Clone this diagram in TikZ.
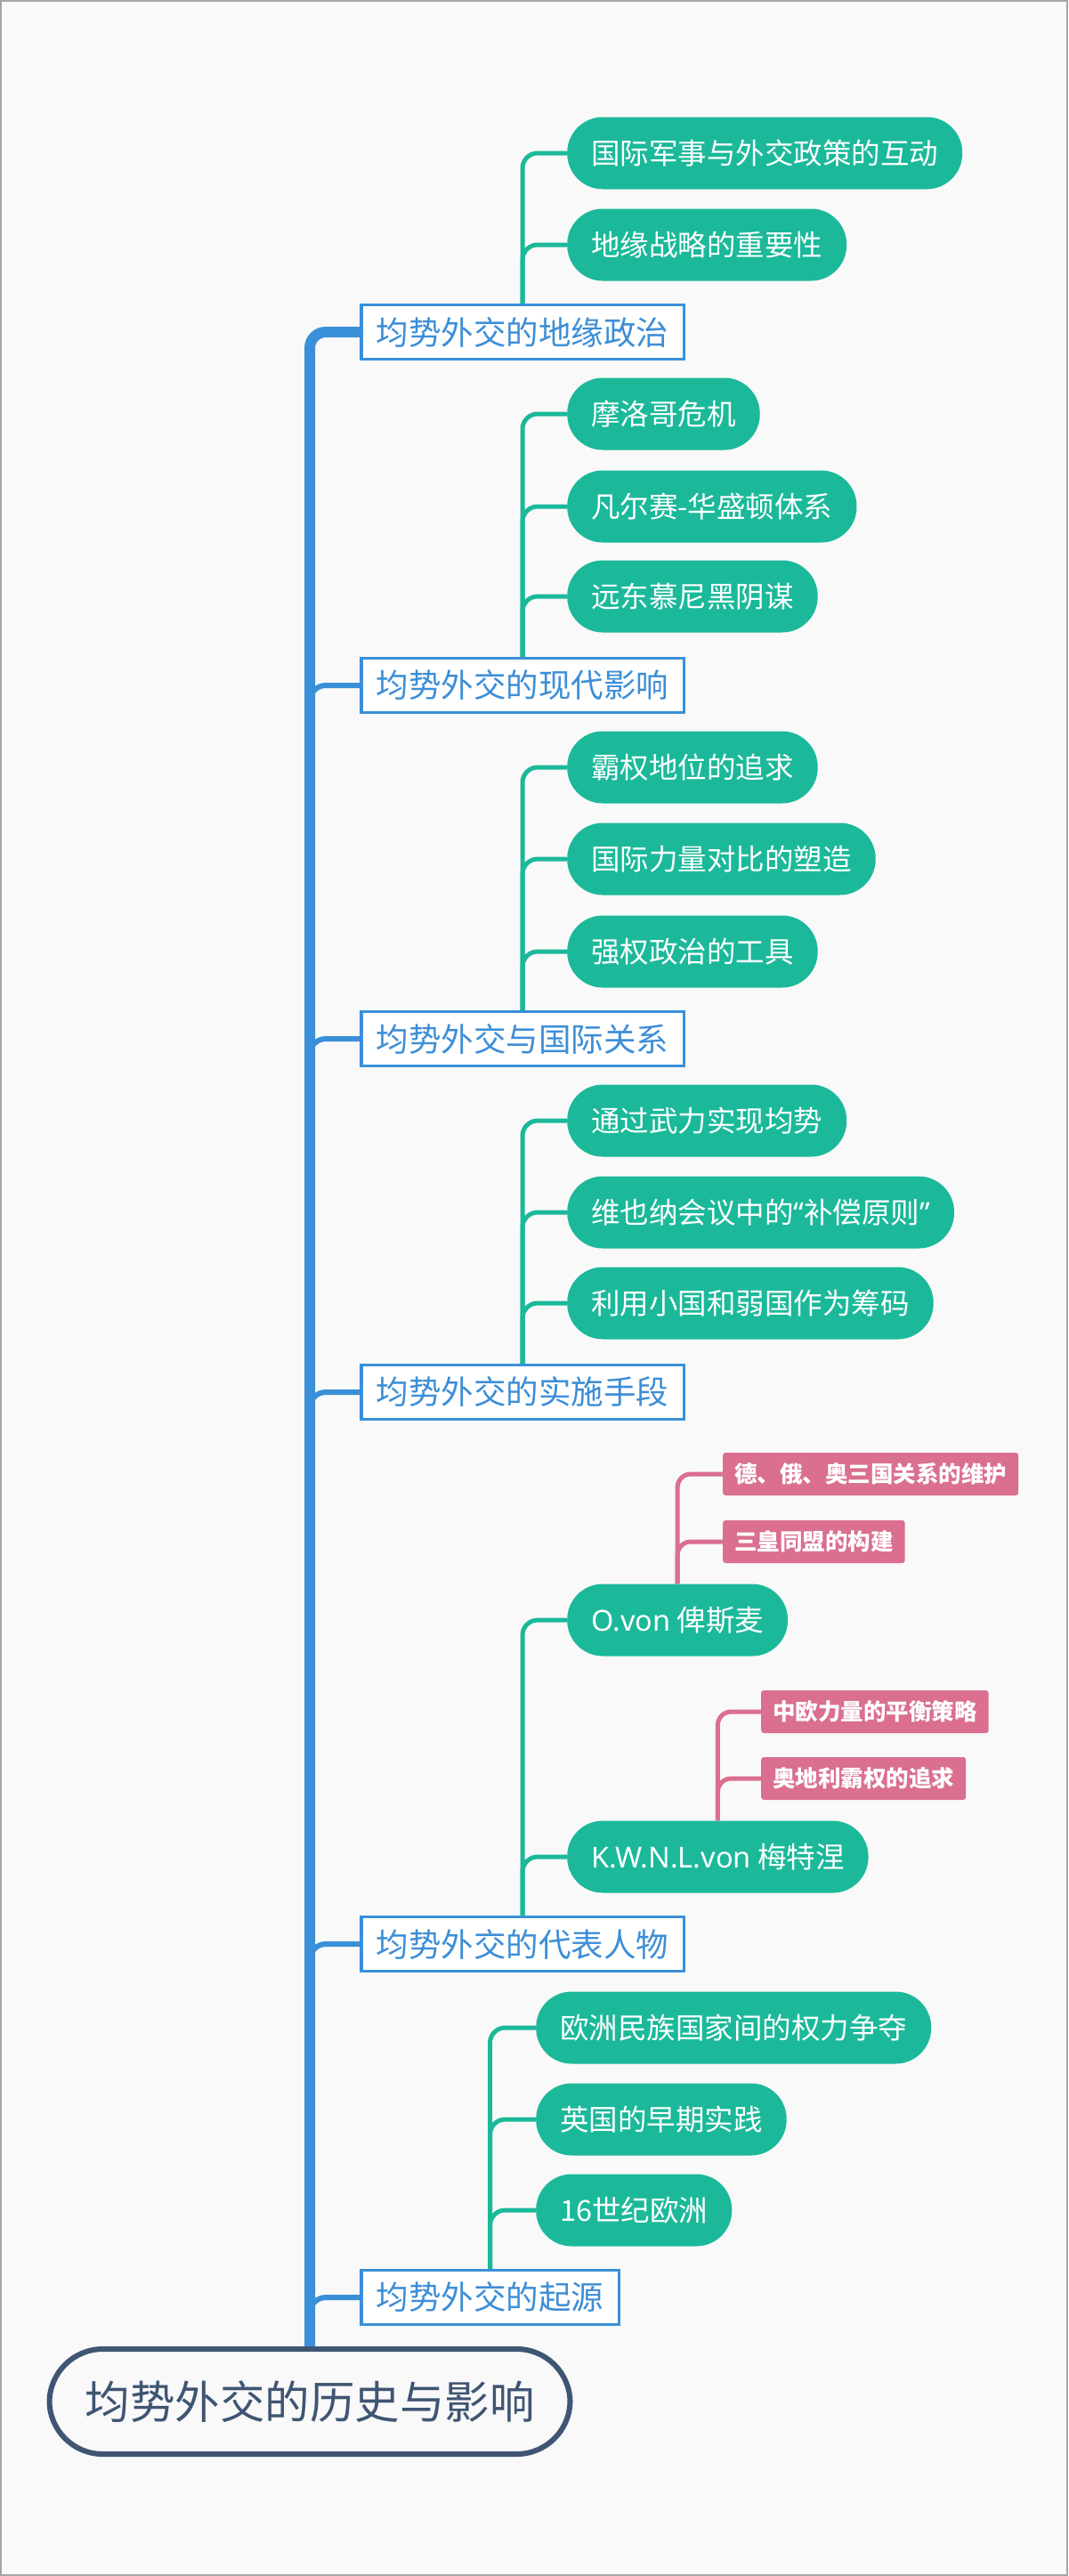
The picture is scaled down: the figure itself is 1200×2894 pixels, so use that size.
\documentclass[tikz,border=0pt]{standalone}
\usepackage{fontspec}
\newfontfamily\cjk{Noto Sans CJK SC}
\newfontfamily\lat{Noto Sans}
\usetikzlibrary{positioning}

\definecolor{bgcol}{RGB}{249,249,249}
\definecolor{trunkblue}{RGB}{58,144,216}
\definecolor{boxtext}{RGB}{61,142,214}
\definecolor{teal}{RGB}{27,185,154}
\definecolor{rose}{RGB}{218,111,143}
\definecolor{slate}{RGB}{63,85,115}

\pgfdeclarelayer{paper}
\pgfdeclarelayer{lines}
\pgfsetlayers{paper,lines,main}

\begin{document}
\begin{tikzpicture}[
  x=1pt, y=-1pt,
  rootnode/.style={draw=slate, line width=6pt, rounded corners=60pt, minimum height=118pt,
              inner xsep=40pt, text=slate, font=\cjk\fontsize{50.5}{56}\selectfont},
  topic/.style={draw=trunkblue, fill=white, line width=3.5pt, minimum height=61pt,
              inner xsep=17pt, anchor=west, text=boxtext, font=\cjk\fontsize{36.5}{42}\selectfont},
  pill/.style={fill=teal, rounded corners=40pt, minimum height=81pt, inner xsep=27pt,
              anchor=west, text=white, font=\cjk\fontsize{32.5}{38}\selectfont},
  tag/.style={fill=rose, rounded corners=3pt, minimum height=48pt, inner xsep=13pt,
              anchor=west, text=white, font=\cjk\bfseries\fontsize{25.5}{30}\selectfont},
  trunk/.style={draw=trunkblue, line width=12pt, rounded corners=18pt},
  twig/.style={draw=trunkblue, line width=6pt, rounded corners=18pt},
  gline/.style={draw=teal, line width=5pt, rounded corners=17pt},
  pline/.style={draw=rose, line width=5pt, rounded corners=15pt}
]
  \useasboundingbox (0,0) rectangle (1200,2894);
  \begin{pgfonlayer}{paper}
    \fill[bgcol] (0,0) rectangle (1200,2894);
    \draw[gray!70, line width=2pt] (1,1) rectangle (1199,2893);
  \end{pgfonlayer}

  % root and main topics
  \node[rootnode] (root) at (348,2698) {均势外交的历史与影响};
  \node[topic] (geo)  at (404,373)  {均势外交的地缘政治};
  \node[topic] (mod)  at (404,770)  {均势外交的现代影响};
  \node[topic] (rel)  at (404,1167) {均势外交与国际关系};
  \node[topic] (mean) at (404,1564) {均势外交的实施手段};
  \node[topic] (ppl)  at (404,2184) {均势外交的代表人物};
  \node[topic] (orig) at (404,2581) {均势外交的起源};

  % subtopics
  \node[pill] (geoa) at (637,172) {国际军事与外交政策的互动};
  \node[pill] (geob) at (637,275) {地缘战略的重要性};
  \node[pill] (moda) at (637,465) {摩洛哥危机};
  \node[pill] (modb) at (637,569) {凡尔赛-华盛顿体系};
  \node[pill] (modc) at (637,670) {远东慕尼黑阴谋};
  \node[pill] (rela) at (637,862) {霸权地位的追求};
  \node[pill] (relb) at (637,965) {国际力量对比的塑造};
  \node[pill] (relc) at (637,1069) {强权政治的工具};
  \node[pill] (meana) at (637,1259) {通过武力实现均势};
  \node[pill] (meanb) at (637,1362) {维也纳会议中的{\lat “}补偿原则{\lat ”}};
  \node[pill] (meanc) at (637,1464) {利用小国和弱国作为筹码};
  \node[pill] (bism) at (637,1820) {{\lat O.von} 俾斯麦};
  \node[pill] (mett) at (637,2086) {{\lat K.W.N.L.von} 梅特涅};
  \node[pill] (origa) at (602,2278) {欧洲民族国家间的权力争夺};
  \node[pill] (origb) at (602,2381) {英国的早期实践};
  \node[pill] (origc) at (602,2483) {16世纪欧洲};

  % details
  \node[tag] (bisma) at (812,1656) {德、俄、奥三国关系的维护};
  \node[tag] (bismb) at (812,1732) {三皇同盟的构建};
  \node[tag] (metta) at (855,1923) {中欧力量的平衡策略};
  \node[tag] (mettb) at (855,1998) {奥地利霸权的追求};

  % connectors
  \begin{pgfonlayer}{lines}
    \draw[trunk] (root.north) |- (geo.west);
    \foreach \t in {mod,rel,mean,ppl,orig}
      \draw[twig] (root.north) |- (\t.west);

    \foreach \p/\c in {geo/geoa,geo/geob,mod/moda,mod/modb,mod/modc,rel/rela,rel/relb,rel/relc,
                       mean/meana,mean/meanb,mean/meanc,ppl/bism,ppl/mett,
                       orig/origa,orig/origb,orig/origc}
      \draw[gline] (\p.north) |- (\c.west);

    \foreach \p/\c in {bism/bisma,bism/bismb,mett/metta,mett/mettb}
      \draw[pline] (\p.north) |- (\c.west);
  \end{pgfonlayer}
\end{tikzpicture}
\end{document}
